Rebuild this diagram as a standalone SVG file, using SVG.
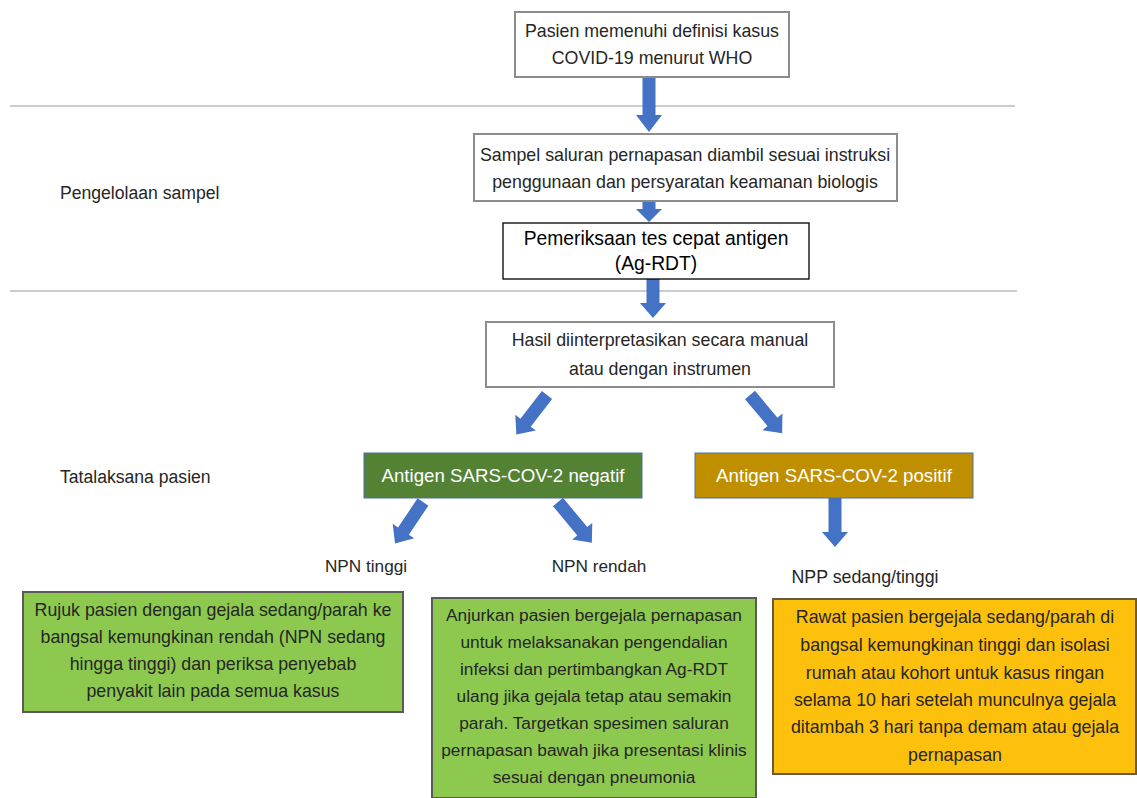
<svg xmlns="http://www.w3.org/2000/svg" width="1137" height="798" viewBox="0 0 1137 798">
<style>
  .t { font-family: "Liberation Sans", Arial, sans-serif; fill: #262626; text-anchor: middle; }
  .l { font-family: "Liberation Sans", Arial, sans-serif; fill: #262626; }
  .w { font-family: "Liberation Sans", Arial, sans-serif; fill: #ffffff; text-anchor: middle; }
  .gbox { fill: #ffffff; stroke: #8c8c8c; stroke-width: 2; }
  .arrow { fill: #4472C4; }
  .sep { stroke: #c9ccd1; stroke-width: 2; }
</style>
<rect width="1137" height="798" fill="#ffffff"/>

<g id="separators">
  <line class="sep" x1="10" y1="106" x2="1015" y2="106"/>
  <line class="sep" x1="10" y1="291" x2="1017" y2="291"/>
</g>

<g id="section-labels">
  <text class="l" x="60" y="199" font-size="17.6">Pengelolaan sampel</text>
  <text class="l" x="60" y="483" font-size="17.6">Tatalaksana pasien</text>
</g>

<g id="connectors">
  <polygon class="arrow" transform="translate(649,77)" points="-6.5,0 6.5,0 6.5,38 13,38 0,55 -13,38 -6.5,38"/>
  <polygon class="arrow" transform="translate(649,201)" points="-6.5,0 6.5,0 6.5,8 13,8 0,21 -13,8 -6.5,8"/>
  <polygon class="arrow" transform="translate(653,279)" points="-6.5,0 6.5,0 6.5,24 13,24 0,39 -13,24 -6.5,24"/>
  <polygon class="arrow" transform="translate(547,395) rotate(37.8)" points="-6.5,0 6.5,0 6.5,35 13,35 0,50 -13,35 -6.5,35"/>
  <polygon class="arrow" transform="translate(750,395) rotate(-40)" points="-6.5,0 6.5,0 6.5,35 13,35 0,50 -13,35 -6.5,35"/>
  <polygon class="arrow" transform="translate(423,502) rotate(34)" points="-6.5,0 6.5,0 6.5,35 13,35 0,50 -13,35 -6.5,35"/>
  <polygon class="arrow" transform="translate(558,502) rotate(-39.7)" points="-6.5,0 6.5,0 6.5,38 13,38 0,53 -13,38 -6.5,38"/>
  <polygon class="arrow" transform="translate(835,498)" points="-6.5,0 6.5,0 6.5,34 13,34 0,49 -13,34 -6.5,34"/>
</g>

<g id="node-who">
  <rect class="gbox" x="515" y="12" width="274" height="65"/>
  <text class="t" x="652" y="37" font-size="17.8">Pasien memenuhi definisi kasus</text>
  <text class="t" x="652" y="64" font-size="17.8">COVID-19 menurut WHO</text>
</g>

<g id="node-sampel">
  <rect class="gbox" x="474" y="134" width="423" height="67"/>
  <text class="t" x="685" y="161" font-size="17.8">Sampel saluran pernapasan diambil sesuai instruksi</text>
  <text class="t" x="685" y="188" font-size="17.8">penggunaan dan persyaratan keamanan biologis</text>
</g>

<g id="node-agrdt">
  <rect x="503" y="223" width="306" height="56" fill="#ffffff" stroke="#000000" stroke-width="1.3"/>
  <text x="656" y="245" font-size="19.3" font-family="Liberation Sans, Arial, sans-serif" fill="#000000" text-anchor="middle">Pemeriksaan tes cepat antigen</text>
  <text x="656" y="270" font-size="19.3" font-family="Liberation Sans, Arial, sans-serif" fill="#000000" text-anchor="middle">(Ag-RDT)</text>
</g>

<g id="node-hasil">
  <rect class="gbox" x="486" y="322" width="348" height="65"/>
  <text class="t" x="660" y="346" font-size="17.8">Hasil diinterpretasikan secara manual</text>
  <text class="t" x="660" y="375" font-size="17.8">atau dengan instrumen</text>
</g>

<g id="node-negatif">
  <rect x="364" y="453" width="278" height="45" fill="#548235" stroke="#4a6fa8" stroke-width="1"/>
  <text class="w" x="503" y="482" font-size="18.7">Antigen SARS-COV-2 negatif</text>
</g>

<g id="node-positif">
  <rect x="695" y="453" width="278" height="45" fill="#BF8F00" stroke="#4a6fa8" stroke-width="1"/>
  <text class="w" x="834" y="482" font-size="18.7">Antigen SARS-COV-2 positif</text>
</g>

<g id="labels">
  <text class="t" x="366" y="572" font-size="17.2">NPN tinggi</text>
  <text class="t" x="599" y="572" font-size="17.2">NPN rendah</text>
  <text class="t" x="865" y="583" font-size="17.8">NPP sedang/tinggi</text>
</g>

<g id="node-npn-tinggi">
  <rect x="23" y="592" width="380" height="120" fill="#8DC94E" stroke="#5a5a5a" stroke-width="2"/>
  <text class="t" x="213" y="616" font-size="17.8">Rujuk pasien dengan gejala sedang/parah ke</text>
  <text class="t" x="213" y="643" font-size="17.8">bangsal kemungkinan rendah (NPN sedang</text>
  <text class="t" x="213" y="670" font-size="17.8">hingga tinggi) dan periksa penyebab</text>
  <text class="t" x="213" y="697" font-size="17.8">penyakit lain pada semua kasus</text>
</g>

<g id="node-npn-rendah">
  <rect x="432" y="598" width="324" height="200" fill="#8DC94E" stroke="#5a5a5a" stroke-width="2"/>
  <text class="t" x="594" y="621" font-size="17.3">Anjurkan pasien bergejala pernapasan</text>
  <text class="t" x="594" y="648" font-size="17.3">untuk melaksanakan pengendalian</text>
  <text class="t" x="594" y="675" font-size="17.3">infeksi dan pertimbangkan Ag-RDT</text>
  <text class="t" x="594" y="702" font-size="17.3">ulang jika gejala tetap atau semakin</text>
  <text class="t" x="594" y="729" font-size="17.3">parah. Targetkan spesimen saluran</text>
  <text class="t" x="594" y="756" font-size="17.3">pernapasan bawah jika presentasi klinis</text>
  <text class="t" x="594" y="783" font-size="17.3">sesuai dengan pneumonia</text>
</g>

<g id="node-npp">
  <rect x="773" y="599" width="363" height="175" fill="#FDC00C" stroke="#6b5a3a" stroke-width="2"/>
  <text class="t" x="955" y="623" font-size="17.8">Rawat pasien bergejala sedang/parah di</text>
  <text class="t" x="955" y="651" font-size="17.8">bangsal kemungkinan tinggi dan isolasi</text>
  <text class="t" x="955" y="679" font-size="17.8">rumah atau kohort untuk kasus ringan</text>
  <text class="t" x="955" y="706" font-size="17.8">selama 10 hari setelah munculnya gejala</text>
  <text class="t" x="955" y="733" font-size="17.8">ditambah 3 hari tanpa demam atau gejala</text>
  <text class="t" x="955" y="761" font-size="17.8">pernapasan</text>
</g>
</svg>
